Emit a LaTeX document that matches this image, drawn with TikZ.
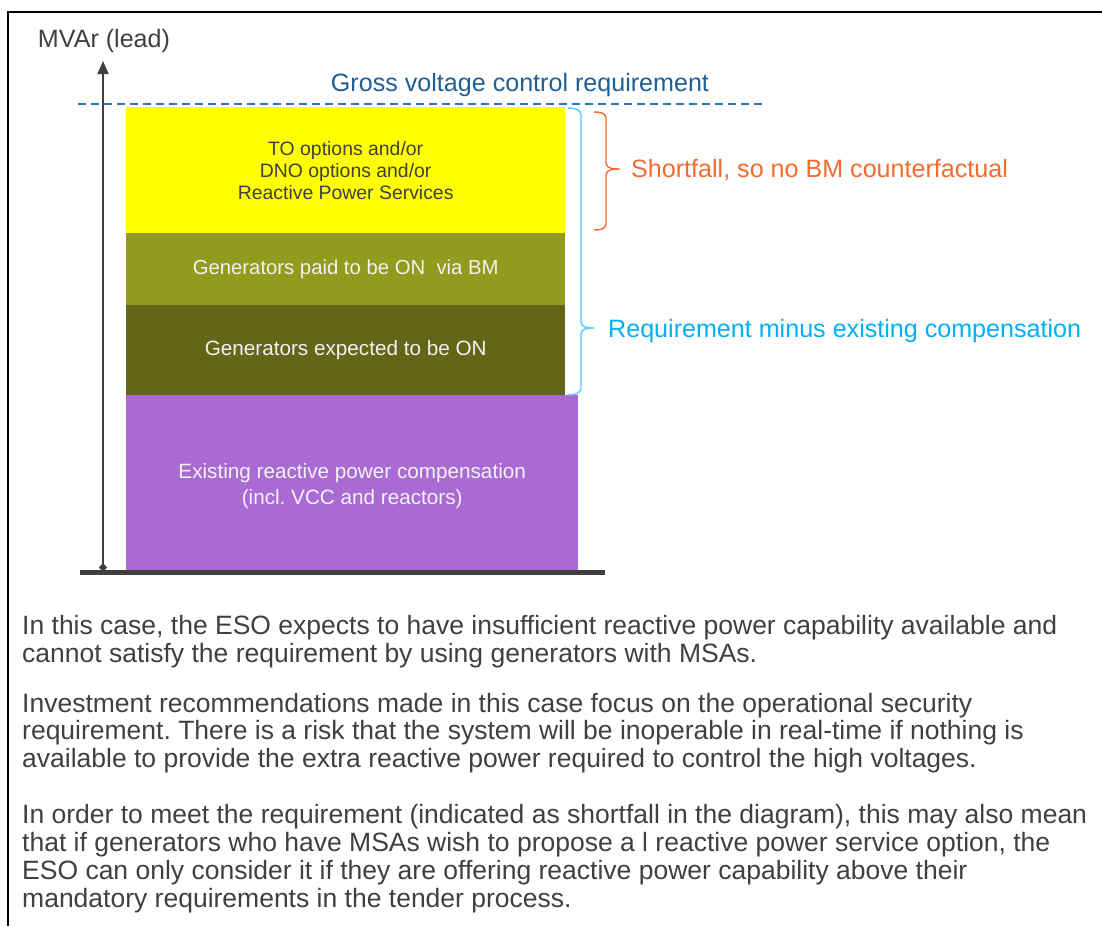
\documentclass[tikz,border=0pt]{standalone}
\usepackage{fontspec}
\setmainfont{Liberation Sans}
\usetikzlibrary{arrows.meta}
\frenchspacing
\definecolor{axisgray}{HTML}{404040}
\definecolor{txtgray}{HTML}{404040}
\definecolor{gvblue}{HTML}{1F5F96}
\definecolor{dashblue}{HTML}{2E75B6}
\definecolor{reqblue}{HTML}{00B0F0}
\definecolor{brblue}{HTML}{5BC8F5}
\definecolor{sforange}{HTML}{F26B2F}
\definecolor{cyellow}{HTML}{FFFF00}
\definecolor{colive}{HTML}{939B1F}
\definecolor{cdolive}{HTML}{626616}
\definecolor{cpurple}{HTML}{A96BD3}
\begin{document}
\begin{tikzpicture}[x=1pt,y=-1pt,
  bar/.style={anchor=north west, inner sep=0pt, align=center, font=\fontsize{20.7}{22}\selectfont},
  bartext/.style={inner sep=0pt, align=center},
  lbl/.style={inner sep=0pt, font=\fontsize{25.1}{28}\selectfont},
  para/.style={inner sep=0pt, anchor=base west, align=left, text=txtgray, font=\fontsize{26.5}{27.6}\selectfont},
  brace/.style={line width=1.4pt}]
\useasboundingbox (0,0) rectangle (1102,926);
\fill[white] (0,0) rectangle (1102,926);
% frame
\draw[line width=2pt, black] (1102,12) -- (8,12) -- (8,926);
% bars
\node[bar, fill=cyellow, minimum width=439, minimum height=126, text=txtgray,
  font=\fontsize{19.4}{22}\selectfont] (yb) at (126,107)
  {TO options and/or\\DNO options and/or\\Reactive Power Services};
\node[bar, fill=colive, minimum width=439, minimum height=72, text=white!95!black,
  font=\fontsize{20.3}{22}\selectfont] (ob) at (126,233)
  {Generators paid to be ON\ \ via BM};
\node[bar, fill=cdolive, minimum width=439, minimum height=90, text=white!95!black] (db) at (126,305)
  {Generators expected to be ON};
\node[bar, fill=cpurple, minimum width=452, minimum height=175] (pb) at (126,395) {};
\node[bartext, text=white!95!black, font=\fontsize{20.7}{26}\selectfont] (pbt) at ([yshift=-3pt]pb.center)
  {Existing reactive power compensation\\(incl. VCC and reactors)};
% axes
\coordinate (o) at (103,572);
\coordinate (ytop) at (103,61);
\coordinate (xl) at (80,572);
\coordinate (xr) at (605,572);
\draw[axisgray, line width=5pt] (xl) -- (xr);
\draw[axisgray, line width=1.8pt, {Diamond[length=9pt,width=8pt]}-{Triangle[length=13pt,width=11pt]}] (o) -- (ytop);
\node[lbl, anchor=base, text=txtgray] (ylab) at (104,47.5) {MVAr (lead)};
% gross requirement
\coordinate (gl) at (78,104);
\coordinate (gr) at (762,104);
\draw[dashblue, line width=1.5pt, dash pattern=on 8pt off 5pt] (gl) -- (gr);
\node[lbl, anchor=base, text=gvblue] (gvl) at (520,91) {Gross voltage control requirement};
% blue brace
\draw[brace, brblue] (568,108) to[out=0,in=90] (581,115) -- (581,322) to[out=-90,in=180] (594,328)
  to[out=180,in=90] (581,334) -- (581,388) to[out=-90,in=0] (568,395);
\node[lbl, anchor=base west, text=reqblue] (reql) at (608,337) {Requirement minus existing compensation};
% orange brace
\draw[brace, sforange] (594,112) to[out=0,in=90] (606,118) -- (606,163) to[out=-90,in=180] (620,169)
  to[out=180,in=90] (606,175) -- (606,224) to[out=-90,in=0] (594,230);
\node[lbl, anchor=base west, text=sforange] (sfl) at (631,177) {Shortfall, so no BM counterfactual};
% paragraphs (base anchor = baseline of last line)
\node[para] (p1) at (22,662) {In this case, the ESO expects to have insufficient reactive power capability available and\\cannot satisfy the requirement by using generators with MSAs.};
\node[para] (p2) at (22,767.2) {Investment recommendations made in this case focus on the operational security\\requirement. There is a risk that the system will be inoperable in real-time if nothing is\\available to provide the extra reactive power required to control the high voltages.};
\node[para, font=\fontsize{26.5}{28}\selectfont] (p3) at (22,907.5) {In order to meet the requirement (indicated as shortfall in the diagram), this may also mean\\that if generators who have MSAs wish to propose a l reactive power service option, the\\ESO can only consider it if they are offering reactive power capability above their\\mandatory requirements in the tender process.};
\end{tikzpicture}
\end{document}
